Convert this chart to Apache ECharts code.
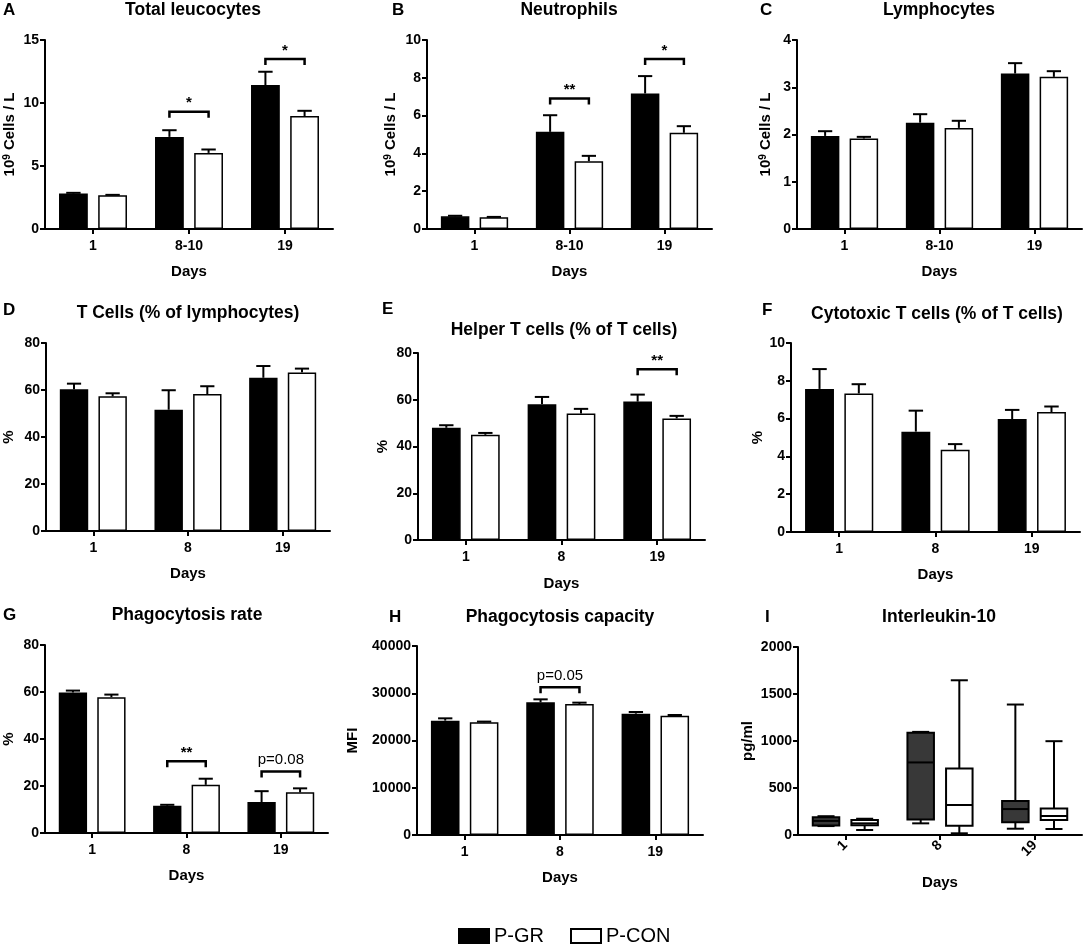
<!DOCTYPE html>
<html>
<head>
<meta charset="utf-8">
<title>Leucocytes and immune markers</title>
<script src="https://cdn.jsdelivr.net/npm/echarts@6/dist/echarts.min.js"></script>
<style>
  html, body { margin: 0; padding: 0; background: #fff; }
  #chart { width: 1084px; height: 946px; }
</style>
</head>
<body>
<div id="chart"></div>
<script>
// Day categories
const daysRange = ['1', '8-10', '19'];
const days = ['1', '8', '19'];

// A: Total leucocytes (10^9 cells / L), mean and SEM
const leucoGR = [2.81, 7.31, 11.42];
const leucoGRSem = [0.06, 0.53, 1.06];
const leucoCON = [2.68, 6.04, 8.96];
const leucoCONSem = [0.03, 0.27, 0.42];
const leucoSig = [[1, 9.3, '*'], [2, 13.5, '*']];

// B: Neutrophils
const neutroGR = [0.67, 5.14, 7.17];
const neutroGRSem = [0.03, 0.88, 0.92];
const neutroCON = [0.62, 3.59, 5.09];
const neutroCONSem = [0.02, 0.28, 0.35];
const neutroSig = [[1, 6.9, '**'], [2, 9.0, '*']];

// C: Lymphocytes
const lymphoGR = [1.97, 2.25, 3.29];
const lymphoGRSem = [0.10, 0.18, 0.22];
const lymphoCON = [1.915, 2.14, 3.22];
const lymphoCONSem = [0.035, 0.15, 0.12];

// D: T cells (% of lymphocytes)
const tcellGR = [60.3, 51.6, 65.2];
const tcellGRSem = [2.4, 8.3, 5.0];
const tcellCON = [57.3, 58.3, 67.5];
const tcellCONSem = [1.3, 3.3, 1.6];

// E: Helper T cells (% of T cells)
const helperGR = [48.0, 58.1, 59.2];
const helperGRSem = [1.1, 3.1, 3.0];
const helperCON = [45.0, 54.1, 52.0];
const helperCONSem = [0.8, 2.0, 1.1];
const helperSig = [[2, 73, '**']];

// F: Cytotoxic T cells (% of T cells)
const cytoGR = [7.57, 5.31, 5.98];
const cytoGRSem = [1.05, 1.11, 0.48];
const cytoCON = [7.33, 4.35, 6.35];
const cytoCONSem = [0.49, 0.30, 0.29];

// G: Phagocytosis rate (%)
const phagoRateGR = [59.8, 11.6, 13.2];
const phagoRateGRSem = [0.8, 0.4, 4.6];
const phagoRateCON = [57.8, 20.5, 17.3];
const phagoRateCONSem = [1.1, 2.6, 1.7];
const phagoRateSig = [[1, 30.5, '**'], [2, 26.2, 'p=0.08']];

// H: Phagocytosis capacity (MFI)
const phagoCapGR = [24200, 28080, 25680];
const phagoCapGRSem = [490, 630, 350];
const phagoCapCON = [23850, 27720, 25260];
const phagoCapCONSem = [150, 290, 140];
const phagoCapSig = [[1, 31250, 'p=0.05']];

// I: Interleukin-10 (pg/ml), [min, q1, median, q3, max] per day
const il10GR = [[95, 100, 150, 190, 200], [124, 166, 772, 1087, 1097], [67, 135, 276, 361, 1388]];
const il10CON = [[53, 103, 124, 159, 173], [18, 99, 319, 708, 1646], [64, 159, 202, 283, 998]];

const FONT = '"Liberation Sans", Arial, Helvetica, sans-serif';
const BAR_W = 0.30;      // bar width as share of category band
const BAR_GAP = 0.36;    // gap between the two bars, share of bar width
const OFFSET = BAR_W * (1 + BAR_GAP) / 2;

const cellsName = '10{s|9} Cells / L';

const panels = [
    { letter: 'A', title: 'Total leucocytes', cats: daysRange, yName: cellsName, max: 15, interval: 5,
      gr: leucoGR, grSem: leucoGRSem, con: leucoCON, conSem: leucoCONSem, sig: leucoSig,
      grid: { left: 45, top: 40, width: 288, height: 189 }, letterAt: [3, 10], titleAt: [193, 10], yGap: 28, daysGap: 35 },
    { letter: 'B', title: 'Neutrophils', cats: daysRange, yName: cellsName, max: 10, interval: 2,
      gr: neutroGR, grSem: neutroGRSem, con: neutroCON, conSem: neutroCONSem, sig: neutroSig,
      grid: { left: 427, top: 40, width: 285, height: 189 }, letterAt: [392, 10], titleAt: [569, 10], yGap: 29, daysGap: 35 },
    { letter: 'C', title: 'Lymphocytes', cats: daysRange, yName: cellsName, max: 4, interval: 1,
      gr: lymphoGR, grSem: lymphoGRSem, con: lymphoCON, conSem: lymphoCONSem, sig: [],
      grid: { left: 797, top: 40, width: 285, height: 189 }, letterAt: [760, 10], titleAt: [939, 10], yGap: 24, daysGap: 35 },
    { letter: 'D', title: 'T Cells (% of lymphocytes)', cats: days, yName: '%', max: 80, interval: 20,
      gr: tcellGR, grSem: tcellGRSem, con: tcellCON, conSem: tcellCONSem, sig: [],
      grid: { left: 45, top: 343, width: 285, height: 188 }, letterAt: [3, 310], titleAt: [188, 313], yGap: 30, daysGap: 35 },
    { letter: 'E', title: 'Helper T cells (% of T cells)', cats: days, yName: '%', max: 80, interval: 20,
      gr: helperGR, grSem: helperGRSem, con: helperCON, conSem: helperCONSem, sig: helperSig,
      grid: { left: 418, top: 353, width: 287, height: 187 }, letterAt: [382, 309], titleAt: [564, 330], yGap: 28, daysGap: 36 },
    { letter: 'F', title: 'Cytotoxic T cells (% of T cells)', cats: days, yName: '%', max: 10, interval: 2,
      gr: cytoGR, grSem: cytoGRSem, con: cytoCON, conSem: cytoCONSem, sig: [],
      grid: { left: 791, top: 343, width: 289, height: 189 }, letterAt: [762, 310], titleAt: [937, 314], yGap: 24, daysGap: 35 },
    { letter: 'G', title: 'Phagocytosis rate', cats: days, yName: '%', max: 80, interval: 20,
      gr: phagoRateGR, grSem: phagoRateGRSem, con: phagoRateCON, conSem: phagoRateCONSem, sig: phagoRateSig,
      grid: { left: 42, top: 645, width: 286, height: 188 }, letterAt: [3, 615], titleAt: [187, 615], yGap: 29, daysGap: 35 },
    { letter: 'H', title: 'Phagocytosis capacity', cats: days, yName: 'MFI', max: 40000, interval: 10000,
      gr: phagoCapGR, grSem: phagoCapGRSem, con: phagoCapCON, conSem: phagoCapCONSem, sig: phagoCapSig,
      grid: { left: 417, top: 646, width: 286, height: 189 }, letterAt: [389, 617], titleAt: [560, 617], yGap: 57, daysGap: 35 },
    { letter: 'I', title: 'Interleukin-10', cats: days, yName: 'pg/ml', max: 2000, interval: 500,
      boxGR: il10GR, boxCON: il10CON, rotate: 45,
      grid: { left: 798, top: 647, width: 284, height: 188 }, letterAt: [765, 617], titleAt: [939, 617], yGap: 43, daysGap: 40 }
];

// upward-only SEM bar, side -1 for the left bar, +1 for the right bar
function errorRender(side) {
    return function (params, api) {
        const cat = api.value(0);
        const mean = api.value(1);
        const sem = api.value(2);
        const band = api.size([1, 0])[0];
        const p0 = api.coord([cat, mean]);
        const p1 = api.coord([cat, mean + sem]);
        const x = p0[0] + side * OFFSET * band;
        const cap = band * 0.15;
        const st = { stroke: '#000', lineWidth: 2 };
        return {
            type: 'group',
            children: [
                { type: 'line', shape: { x1: x, y1: p0[1], x2: x, y2: p1[1] }, style: st },
                { type: 'line', shape: { x1: x - cap / 2, y1: p1[1], x2: x + cap / 2, y2: p1[1] }, style: st }
            ]
        };
    };
}

// significance bracket between the two bars of a day
function sigRender(list) {
    return function (params, api) {
        const cat = api.value(0);
        const pt = api.coord([cat, api.value(1)]);
        const band = api.size([1, 0])[0];
        const x1 = pt[0] - OFFSET * band;
        const x2 = pt[0] + OFFSET * band;
        const label = list[params.dataIndex][2];
        const isStar = label.indexOf('*') === 0;
        return {
            type: 'group',
            children: [
                { type: 'polyline', shape: { points: [[x1, pt[1] + 6], [x1, pt[1]], [x2, pt[1]], [x2, pt[1] + 6]] },
                  style: { stroke: '#000', lineWidth: 2.5, fill: null } },
                { type: 'text', x: pt[0], y: pt[1] - (isStar ? 1 : 4),
                  style: { text: label, fill: '#000', align: 'center', verticalAlign: 'bottom',
                           font: (isStar ? 'bold 15px ' : '15px ') + FONT } }
            ]
        };
    };
}

// box and whisker (min to max)
function boxRender(side, fill) {
    return function (params, api) {
        const cat = api.value(0);
        const band = api.size([1, 0])[0];
        const cx = api.coord([cat, 0])[0] + side * OFFSET * band;
        const w = 0.28 * band;
        const cap = band * 0.18;
        const y = function (k) { return api.coord([cat, api.value(k)])[1]; };
        const yMin = y(1), yQ1 = y(2), yMed = y(3), yQ3 = y(4), yMax = y(5);
        const st = { stroke: '#000', lineWidth: 2 };
        return {
            type: 'group',
            children: [
                { type: 'line', shape: { x1: cx, y1: yQ3, x2: cx, y2: yMax }, style: st },
                { type: 'line', shape: { x1: cx, y1: yQ1, x2: cx, y2: yMin }, style: st },
                { type: 'line', shape: { x1: cx - cap / 2, y1: yMax, x2: cx + cap / 2, y2: yMax }, style: st },
                { type: 'line', shape: { x1: cx - cap / 2, y1: yMin, x2: cx + cap / 2, y2: yMin }, style: st },
                { type: 'rect', shape: { x: cx - w / 2, y: yQ3, width: w, height: yQ1 - yQ3 },
                  style: { fill: fill, stroke: '#000', lineWidth: 2 } },
                { type: 'line', shape: { x1: cx - w / 2, y1: yMed, x2: cx + w / 2, y2: yMed }, style: st }
            ]
        };
    };
}

const grid = [];
const xAxis = [];
const yAxis = [];
const series = [];
const graphic = [];

const axisText = { fontFamily: FONT, fontSize: 14, fontWeight: 'bold', color: '#000' };
const axisLineStyle = { color: '#000', width: 2 };

panels.forEach(function (p, i) {
    grid.push(Object.assign({ containLabel: false }, p.grid));

    xAxis.push({
        type: 'category', gridIndex: i, data: p.cats,
        name: 'Days', nameLocation: 'middle', nameGap: p.daysGap,
        nameTextStyle: { fontFamily: FONT, fontSize: 15, fontWeight: 'bold', color: '#000' },
        axisLine: { show: true, lineStyle: axisLineStyle },
        axisTick: { show: true, alignWithLabel: true, length: 5, lineStyle: axisLineStyle },
        axisLabel: Object.assign({ margin: p.rotate ? 8 : 10, rotate: p.rotate || 0 }, axisText),
        splitLine: { show: false }
    });

    yAxis.push({
        type: 'value', gridIndex: i, min: 0, max: p.max, interval: p.interval,
        name: p.yName, nameLocation: 'middle', nameGap: p.yGap,
        nameTextStyle: {
            fontFamily: FONT, fontSize: 15, fontWeight: 'bold', color: '#000',
            rich: { s: { fontFamily: FONT, fontSize: 10, fontWeight: 'bold', color: '#000', verticalAlign: 'top' } }
        },
        axisLine: { show: true, lineStyle: axisLineStyle },
        axisTick: { show: true, length: 5, lineStyle: axisLineStyle },
        axisLabel: Object.assign({ margin: 6, formatter: function (v) { return String(v); } }, axisText),
        splitLine: { show: false }
    });

    if (p.boxGR) {
        series.push({
            name: 'box-gr', type: 'custom', xAxisIndex: i, yAxisIndex: i,
            data: p.boxGR.map(function (b, k) { return [k].concat(b); }),
            encode: { x: 0, y: [1, 2, 3, 4, 5] },
            renderItem: boxRender(-1, '#383838'), z: 3
        });
        series.push({
            name: 'box-con', type: 'custom', xAxisIndex: i, yAxisIndex: i,
            data: p.boxCON.map(function (b, k) { return [k].concat(b); }),
            encode: { x: 0, y: [1, 2, 3, 4, 5] },
            renderItem: boxRender(1, '#fff'), z: 3
        });
    } else {
        series.push({
            name: 'P-GR', type: 'bar', xAxisIndex: i, yAxisIndex: i, data: p.gr,
            barWidth: (BAR_W * 100) + '%', barGap: (BAR_GAP * 100) + '%',
            itemStyle: { color: '#000', borderColor: '#000', borderWidth: 1.5 }
        });
        series.push({
            name: 'P-CON', type: 'bar', xAxisIndex: i, yAxisIndex: i, data: p.con,
            barWidth: (BAR_W * 100) + '%', barGap: (BAR_GAP * 100) + '%',
            itemStyle: { color: '#fff', borderColor: '#000', borderWidth: 1.5 }
        });
        series.push({
            name: 'err-gr', type: 'custom', xAxisIndex: i, yAxisIndex: i,
            data: p.gr.map(function (v, k) { return [k, v, p.grSem[k]]; }),
            encode: { x: 0, y: 1 }, renderItem: errorRender(-1), z: 3
        });
        series.push({
            name: 'err-con', type: 'custom', xAxisIndex: i, yAxisIndex: i,
            data: p.con.map(function (v, k) { return [k, v, p.conSem[k]]; }),
            encode: { x: 0, y: 1 }, renderItem: errorRender(1), z: 3
        });
        if (p.sig.length) {
            series.push({
                name: 'sig', type: 'custom', xAxisIndex: i, yAxisIndex: i,
                data: p.sig.map(function (s) { return [s[0], s[1]]; }),
                encode: { x: 0, y: 1 }, renderItem: sigRender(p.sig), z: 4
            });
        }
    }

    // panel title and letter
    graphic.push({
        type: 'text', x: p.titleAt[0], y: p.titleAt[1],
        style: { text: p.title, fill: '#000', align: 'center', verticalAlign: 'middle', font: 'bold 17.5px ' + FONT }
    });
    graphic.push({
        type: 'text', x: p.letterAt[0], y: p.letterAt[1],
        style: { text: p.letter, fill: '#000', align: 'left', verticalAlign: 'middle', font: 'bold 17px ' + FONT }
    });
});

const chart = echarts.init(document.getElementById('chart'));
chart.setOption({
    backgroundColor: '#fff',
    animation: false,
    grid: grid,
    xAxis: xAxis,
    yAxis: yAxis,
    series: series,
    graphic: graphic,
    legend: {
        data: ['P-GR', 'P-CON'],
        left: 453, top: 921,
        icon: 'rect', itemWidth: 30, itemHeight: 14, itemGap: 26,
        selectedMode: false,
        textStyle: { fontFamily: FONT, fontSize: 20, color: '#000' }
    }
});
</script>
</body>
</html>
